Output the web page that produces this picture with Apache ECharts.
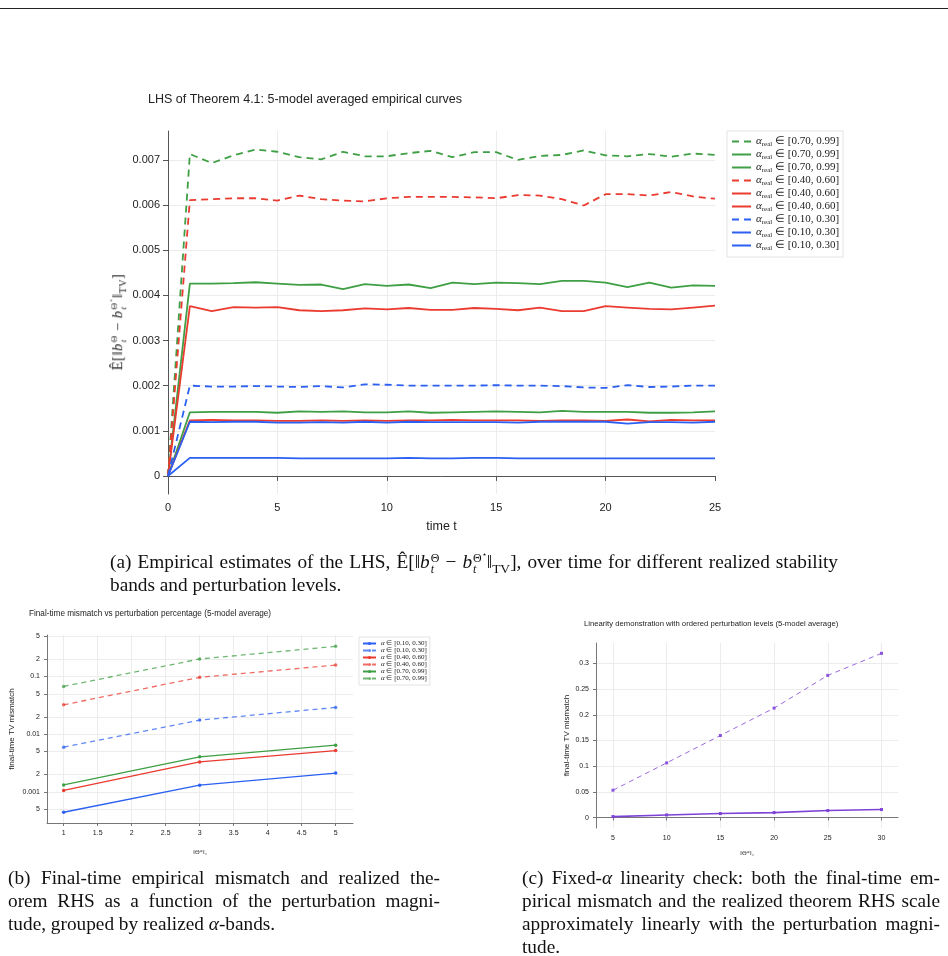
<!DOCTYPE html>
<html>
<head>
<meta charset="utf-8">
<script src="https://cdn.jsdelivr.net/npm/echarts@6/dist/echarts.min.js"></script>
<style>
  html, body { margin: 0; padding: 0; background: #fff; }
  #page { position: relative; width: 948px; height: 956px; overflow: hidden; }
  #chart { position: absolute; left: 0; top: 0; width: 948px; height: 956px; }
  .rule { position: absolute; left: 0; top: 8px; width: 948px; height: 1px; background: #222; }
  .cap { position: absolute; font-family: "Liberation Serif", serif; font-size: 19.3px; line-height: 23px; color: #111; }
  .cap div { height: 23px; }
  .cap .j { text-align: justify; text-align-last: justify; }
  .st { display: inline-block; font-size: 0.62em; line-height: 0.95; vertical-align: -0.42em; text-align: left; margin-left: 1px; }
  .st span { display: block; }
  .ylab { position: absolute; left: 118px; top: 322px; transform: translate(-50%, -50%) rotate(-90deg);
          font-family: "Liberation Serif", serif; font-size: 14.5px; letter-spacing: 0.5px; white-space: nowrap; color: #222; }
</style>
</head>
<body>
<div id="page">
  <div id="chart"></div>
  <div class="rule"></div>
  <div class="ylab">Ê[‖<i>b</i><span class="st"><span>Θ</span><span><i>t</i></span></span> − <i>b</i><span class="st"><span>Θ<sup style="font-size:0.7em">⋆</sup></span><span><i>t</i></span></span>‖<sub style="font-size:0.7em">TV</sub>]</div>
  <div class="cap" style="left:110px; top:550px; width:728px;">
    <div class="j">(a) Empirical estimates of the LHS, Ê[‖<i>b</i><span class="st"><span>Θ</span><span><i>t</i></span></span> − <i>b</i><span class="st"><span>Θ<sup style="font-size:0.7em">⋆</sup></span><span><i>t</i></span></span>‖<sub style="font-size:0.7em">TV</sub>], over time for different realized stability</div>
    <div>bands and perturbation levels.</div>
  </div>
  <div class="cap" style="left:8px; top:866px; width:432px;">
    <div class="j">(b) Final-time empirical mismatch and realized the-</div>
    <div class="j">orem RHS as a function of the perturbation magni-</div>
    <div>tude, grouped by realized <i>α</i>-bands.</div>
  </div>
  <div class="cap" style="left:522px; top:866px; width:418px;">
    <div class="j">(c) Fixed-<i>α</i> linearity check: both the final-time em-</div>
    <div class="j">pirical mismatch and the realized theorem RHS scale</div>
    <div class="j">approximately linearly with the perturbation magni-</div>
    <div>tude.</div>
  </div>
</div>
<script>
// (a) time steps and the nine averaged curves
const timeSteps = [0, 1, 2, 3, 4, 5, 6, 7, 8, 9, 10, 11, 12, 13, 14, 15, 16, 17, 18, 19, 20, 21, 22, 23, 24, 25];
const greenDashed = [0, 0.00713, 0.00693, 0.0071, 0.00723, 0.00718, 0.00706, 0.00701, 0.00718, 0.00708, 0.00708, 0.00715, 0.0072, 0.00706, 0.00717, 0.00717, 0.0070, 0.00709, 0.00711, 0.00721, 0.0071, 0.00708, 0.00713, 0.00707, 0.00714, 0.00711];
const greenSolidHigh = [0, 0.00426, 0.00426, 0.00427, 0.00429, 0.00426, 0.00423, 0.00424, 0.00414, 0.00425, 0.00421, 0.00424, 0.00416, 0.00428, 0.00425, 0.00428, 0.00427, 0.00425, 0.00432, 0.00432, 0.00428, 0.00418, 0.00428, 0.00417, 0.00422, 0.00421];
const greenSolidLow = [0, 0.00141, 0.00142, 0.00142, 0.00142, 0.0014, 0.00143, 0.00142, 0.00143, 0.00141, 0.00141, 0.00143, 0.0014, 0.00141, 0.00142, 0.00143, 0.00142, 0.00141, 0.00144, 0.00142, 0.00142, 0.00142, 0.0014, 0.0014, 0.00141, 0.00143];
const redDashed = [0, 0.00611, 0.00613, 0.00615, 0.00615, 0.0061, 0.00621, 0.00613, 0.0061, 0.00608, 0.00615, 0.00618, 0.00618, 0.00618, 0.00617, 0.00615, 0.00622, 0.00621, 0.00613, 0.00599, 0.00624, 0.00624, 0.00621, 0.00629, 0.00619, 0.00614];
const redSolidHigh = [0, 0.00376, 0.00365, 0.00374, 0.00373, 0.00374, 0.00367, 0.00365, 0.00367, 0.00371, 0.00369, 0.00372, 0.00368, 0.00368, 0.00372, 0.0037, 0.00367, 0.00373, 0.00365, 0.00365, 0.00376, 0.00373, 0.0037, 0.00369, 0.00373, 0.00377];
const redSolidLow = [0, 0.00123, 0.00124, 0.00123, 0.00123, 0.00122, 0.00122, 0.00123, 0.00122, 0.00123, 0.00122, 0.00123, 0.00123, 0.00124, 0.00123, 0.00123, 0.00123, 0.00122, 0.00123, 0.00123, 0.00122, 0.00125, 0.00121, 0.00124, 0.00123, 0.00123];
const blueDashed = [0, 0.0020, 0.00198, 0.00198, 0.00199, 0.00198, 0.00197, 0.00199, 0.00196, 0.00203, 0.00202, 0.002, 0.002, 0.002, 0.002, 0.00201, 0.002, 0.002, 0.00199, 0.00196, 0.00195, 0.00201, 0.00197, 0.00198, 0.002, 0.002];
const blueSolidHigh = [0, 0.0012, 0.00119, 0.0012, 0.0012, 0.00118, 0.00118, 0.00119, 0.00118, 0.0012, 0.00118, 0.0012, 0.00119, 0.00119, 0.00119, 0.00119, 0.00118, 0.0012, 0.0012, 0.0012, 0.0012, 0.00116, 0.00119, 0.00119, 0.00118, 0.0012];
const blueSolidLow = [0, 0.0004, 0.0004, 0.0004, 0.0004, 0.0004, 0.00039, 0.00039, 0.00039, 0.00039, 0.00039, 0.0004, 0.00039, 0.00039, 0.0004, 0.0004, 0.00039, 0.00039, 0.00039, 0.00039, 0.00039, 0.00039, 0.00039, 0.00039, 0.00039, 0.00039];
const yTicksA = [0, 0.001, 0.002, 0.003, 0.004, 0.005, 0.006, 0.007];

// (b) final-time mismatch vs perturbation percentage
const perturbPct = [1, 3, 5];
const lowBandEmp = [0.000445, 0.00131, 0.00212];
const lowBandRhs = [0.00596, 0.0175, 0.029];
const midBandEmp = [0.00106, 0.00331, 0.0052];
const midBandRhs = [0.0322, 0.0962, 0.157];
const highBandEmp = [0.00132, 0.00405, 0.00644];
const highBandRhs = [0.0671, 0.2, 0.331];
const xTicksB = [1, 1.5, 2, 2.5, 3, 3.5, 4, 4.5, 5];
const yTicksB = [0.0005, 0.001, 0.002, 0.005, 0.01, 0.02, 0.05, 0.1, 0.2, 0.5];

// (c) linearity check
const thetaNorm = [5, 10, 15, 20, 25, 30];
const linearRhs = [0.0532, 0.1064, 0.1597, 0.2129, 0.2766, 0.3195];
const linearEmp = [0.0019, 0.0051, 0.0078, 0.0097, 0.0136, 0.0156];
const xTicksC = [5, 10, 15, 20, 25, 30];
const yTicksC = [0, 0.05, 0.1, 0.15, 0.2, 0.25, 0.3];

const GREEN = "#3f9f44";
const RED = "#eb3b30";
const BLUE = "#2b60f2";
const PURPLE = "#7d43d6";
const SANS = '"Liberation Sans", Arial, sans-serif';
const SERIF = '"Liberation Serif", serif';

const bandHigh = "0.70, 0.99";
const bandMid = "0.40, 0.60";
const bandLow = "0.10, 0.30";

const curvesA = [
    { band: bandHigh, color: GREEN, dashed: true, values: greenDashed },
    { band: bandHigh, color: GREEN, dashed: false, values: greenSolidHigh },
    { band: bandHigh, color: GREEN, dashed: false, values: greenSolidLow },
    { band: bandMid, color: RED, dashed: true, values: redDashed },
    { band: bandMid, color: RED, dashed: false, values: redSolidHigh },
    { band: bandMid, color: RED, dashed: false, values: redSolidLow },
    { band: bandLow, color: BLUE, dashed: true, values: blueDashed },
    { band: bandLow, color: BLUE, dashed: false, values: blueSolidHigh },
    { band: bandLow, color: BLUE, dashed: false, values: blueSolidLow },
];
const curvesB = [
    { band: bandLow, color: BLUE, dashed: false, values: lowBandEmp },
    { band: bandLow, color: BLUE, dashed: true, values: lowBandRhs },
    { band: bandMid, color: RED, dashed: false, values: midBandEmp },
    { band: bandMid, color: RED, dashed: true, values: midBandRhs },
    { band: bandHigh, color: GREEN, dashed: false, values: highBandEmp },
    { band: bandHigh, color: GREEN, dashed: true, values: highBandRhs },
];

const bandOf = {};
const series = [];

curvesA.forEach((c, i) => {
    const name = "a" + i;
    bandOf[name] = c.band;
    series.push({
        name,
        type: "line",
        xAxisIndex: 0,
        yAxisIndex: 0,
        symbol: "none",
        lineStyle: { color: c.color, width: 1.8, type: c.dashed ? [7, 5] : "solid" },
        itemStyle: { color: c.color },
        data: timeSteps.map((t, k) => [t, c.values[k]]),
    });
});

curvesB.forEach((c, i) => {
    const name = "b" + i;
    bandOf[name] = c.band;
    series.push({
        name,
        type: "line",
        xAxisIndex: 1,
        yAxisIndex: 1,
        symbol: "circle",
        symbolSize: 3.5,
        lineStyle: { color: c.color, width: 1.3, type: c.dashed ? [5, 4] : "solid", opacity: c.dashed ? 0.75 : 1 },
        itemStyle: { color: c.color, opacity: c.dashed ? 0.75 : 1 },
        data: perturbPct.map((p, k) => [p, c.values[k]]),
    });
});

series.push({
    name: "c0",
    type: "line",
    xAxisIndex: 2,
    yAxisIndex: 2,
    symbol: "rect",
    symbolSize: 3,
    lineStyle: { color: "#9a6ae0", width: 1, type: [5, 4] },
    itemStyle: { color: "#8a55dc" },
    data: thetaNorm.map((x, k) => [x, linearRhs[k]]),
});
series.push({
    name: "c1",
    type: "line",
    xAxisIndex: 2,
    yAxisIndex: 2,
    symbol: "rect",
    symbolSize: 3,
    lineStyle: { color: PURPLE, width: 1.6 },
    itemStyle: { color: PURPLE },
    data: thetaNorm.map((x, k) => [x, linearEmp[k]]),
});

function logLabel(v) {
    const e = Math.floor(Math.log10(v) + 1e-9);
    const m = Math.round(v / Math.pow(10, e));
    return m === 1 ? String(+v.toPrecision(1)) : String(m);
}

function axis(opts) {
    const small = opts.small;
    return {
        type: opts.type || "value",
        gridIndex: opts.grid,
        min: opts.min,
        max: opts.max,
        name: opts.name,
        nameLocation: "middle",
        nameGap: opts.nameGap,
        nameTextStyle: opts.nameStyle,
        axisLine: { show: true, lineStyle: { color: small ? "#777" : "#555", width: 1 } },
        axisTick: { show: true, length: small ? 3 : 5, customValues: opts.ticks, lineStyle: { color: small ? "#777" : "#555" } },
        axisLabel: {
            customValues: opts.ticks,
            formatter: opts.fmt,
            fontFamily: SANS,
            fontSize: small ? 7 : 11,
            color: "#222",
            margin: small ? 7 : 8,
        },
        splitLine: { show: true, showMaxLine: opts.maxLine !== false, lineStyle: { color: "#ececec", width: 1 } },
    };
}

const chart = echarts.init(document.getElementById("chart"));
chart.setOption({
    animation: false,
    backgroundColor: "#fff",
    title: [
        { text: "LHS of Theorem 4.1: 5-model averaged empirical curves", left: 148, top: 93, padding: 0,
          textStyle: { fontFamily: SANS, fontSize: 12.5, fontWeight: "normal", color: "#222" } },
        { text: "Final-time mismatch vs perturbation percentage (5-model average)", left: 29, top: 610, padding: 0,
          textStyle: { fontFamily: SANS, fontSize: 8.2, fontWeight: "normal", color: "#222" } },
        { text: "Linearity demonstration with ordered perturbation levels (5-model average)", left: 584, top: 620, padding: 0,
          textStyle: { fontFamily: SANS, fontSize: 7.7, fontWeight: "normal", color: "#222" } },
    ],
    legend: [
        {
            data: curvesA.map((c, i) => "a" + i),
            orient: "vertical",
            left: 727,
            top: 131,
            padding: [5, 4, 5, 4],
            itemWidth: 19,
            itemHeight: 10,
            itemGap: 1,
            itemStyle: { opacity: 0 },
            borderColor: "#e3e3e3",
            borderWidth: 1,
            backgroundColor: "#fff",
            formatter: (name) => `{a|α}{s|real}{n| ∈ [${bandOf[name]}]}`,
            textStyle: {
                rich: {
                    a: { fontFamily: SERIF, fontStyle: "italic", fontSize: 11, lineHeight: 13, color: "#222" },
                    s: { fontFamily: SERIF, fontSize: 7, lineHeight: 8, verticalAlign: "bottom", color: "#222" },
                    n: { fontFamily: SERIF, fontSize: 11, lineHeight: 13, color: "#222" },
                },
            },
        },
        {
            data: curvesB.map((c, i) => "b" + i),
            orient: "vertical",
            left: 359,
            top: 637,
            padding: [3, 3, 3, 3],
            itemWidth: 13,
            itemHeight: 4,
            itemGap: 0,
            borderColor: "#e3e3e3",
            borderWidth: 1,
            backgroundColor: "#fff",
            formatter: (name) => `{a|α}{n| ∈ [${bandOf[name]}]}`,
            textStyle: {
                rich: {
                    a: { fontFamily: SERIF, fontStyle: "italic", fontSize: 7, lineHeight: 8.6, color: "#222" },
                    n: { fontFamily: SERIF, fontSize: 7, lineHeight: 8.6, color: "#222" },
                },
            },
        },
    ],
    grid: [
        { left: 168, top: 131, width: 547, height: 363 },
        { left: 47, top: 635, width: 306, height: 188 },
        { left: 596, top: 643, width: 302, height: 185 },
    ],
    xAxis: [
        axis({ grid: 0, min: 0, max: 25, ticks: [0, 5, 10, 15, 20, 25], maxLine: false, name: "time t", nameGap: 26,
               nameStyle: { fontFamily: SANS, fontSize: 12.5, color: "#222" } }),
        axis({ grid: 1, min: 0.755, max: 5.255, ticks: xTicksB, small: true, name: "‖Θ*‖₂", nameGap: 26,
               nameStyle: { fontFamily: SERIF, fontSize: 6.5, color: "#333" } }),
        axis({ grid: 2, min: 3.42, max: 31.54, ticks: xTicksC, small: true, name: "‖Θ*‖₂", nameGap: 22,
               nameStyle: { fontFamily: SERIF, fontSize: 6.5, color: "#333" } }),
    ],
    yAxis: [
        axis({ grid: 0, min: -0.0004, max: 0.00764, ticks: yTicksA,
               fmt: (v) => (v === 0 ? "0" : v.toFixed(3)) }),
        axis({ grid: 1, type: "log", min: 0.00029, max: 0.52, ticks: yTicksB, small: true, fmt: logLabel,
               name: "final-time TV mismatch", nameGap: 31, nameStyle: { fontFamily: SANS, fontSize: 8, color: "#222" } }),
        axis({ grid: 2, min: -0.0203, max: 0.3396, ticks: yTicksC, small: true, fmt: (v) => String(v),
               name: "final-time TV mismatch", nameGap: 25, nameStyle: { fontFamily: SANS, fontSize: 8, color: "#222" } }),
    ],
    series,
});
</script>
</body>
</html>
